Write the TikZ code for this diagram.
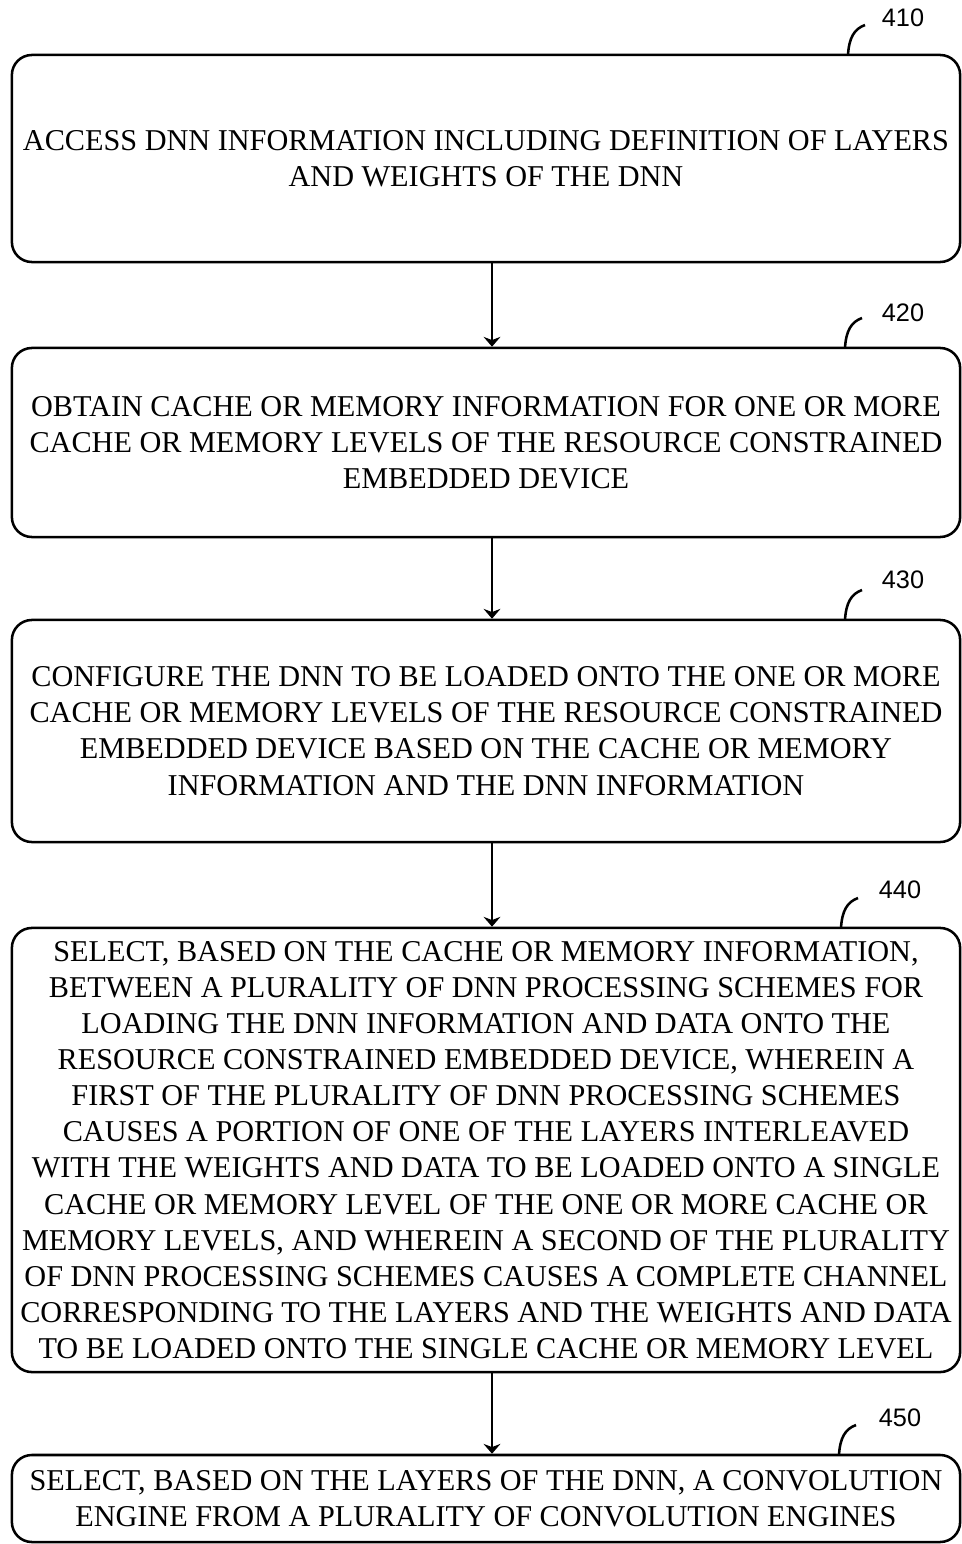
\documentclass[tikz,border=0pt]{standalone}
\usepackage{fontspec}
\setmainfont{Liberation Serif}
\newfontfamily\numfont{Liberation Sans}
\usetikzlibrary{arrows.meta}

\tikzstyle{passo} = [draw, line width=1.8pt, rounded corners=0.5cm, align=center, inner sep=0pt, minimum width=23.7cm, font=\fontsize{21.5}{25.7}\selectfont]
\tikzstyle{rotulo} = [font=\numfont\fontsize{18}{20}\selectfont]
\tikzstyle{seta} = [->, line width=1.8pt]
\tikzstyle{traco} = [line width=1.8pt]

\begin{document}
\begin{tikzpicture}[>={Stealth[length=7pt,width=12pt]}, x=0.025cm, y=-0.025cm]
    \useasboundingbox (0,0) rectangle (961,1544);

    % step 410
    \node (b410) at (486,158.5) [passo, minimum height=5.175cm] {ACCESS DNN INFORMATION INCLUDING DEFINITION OF LAYERS\\AND WEIGHTS OF THE DNN};
    \node (n410) at (903,18) [rotulo] {410};
    \coordinate (t410) at (848,55);
    \draw [traco] (t410) .. controls (849,38) and (854,29) .. (865,25);

    % step 420
    \node (b420) at (486,442.5) [passo, minimum height=4.725cm] {OBTAIN CACHE OR MEMORY INFORMATION FOR ONE OR MORE\\CACHE OR MEMORY LEVELS OF THE RESOURCE CONSTRAINED\\EMBEDDED DEVICE};
    \node (n420) at (903,313) [rotulo] {420};
    \coordinate (t420) at (845,348);
    \draw [traco] (t420) .. controls (846,331) and (851,322) .. (862,318);

    % step 430
    \node (b430) at (486,731) [passo, minimum height=5.55cm] {CONFIGURE THE DNN TO BE LOADED ONTO THE ONE OR MORE\\CACHE OR MEMORY LEVELS OF THE RESOURCE CONSTRAINED\\EMBEDDED DEVICE BASED ON THE CACHE OR MEMORY\\INFORMATION AND THE DNN INFORMATION};
    \node (n430) at (903,580) [rotulo] {430};
    \coordinate (t430) at (845,620);
    \draw [traco] (t430) .. controls (846,603) and (851,594) .. (862,590);

    % step 440
    \node (b440) at (486,1150) [passo, minimum height=11.1cm] {SELECT, BASED ON THE CACHE OR MEMORY INFORMATION,\\BETWEEN A PLURALITY OF DNN PROCESSING SCHEMES FOR\\LOADING THE DNN INFORMATION AND DATA ONTO THE\\RESOURCE CONSTRAINED EMBEDDED DEVICE, WHEREIN A\\FIRST OF THE PLURALITY OF DNN PROCESSING SCHEMES\\CAUSES A PORTION OF ONE OF THE LAYERS INTERLEAVED\\WITH THE WEIGHTS AND DATA TO BE LOADED ONTO A SINGLE\\CACHE OR MEMORY LEVEL OF THE ONE OR MORE CACHE OR\\MEMORY LEVELS, AND WHEREIN A SECOND OF THE PLURALITY\\OF DNN PROCESSING SCHEMES CAUSES A COMPLETE CHANNEL\\CORRESPONDING TO THE LAYERS AND THE WEIGHTS AND DATA\\TO BE LOADED ONTO THE SINGLE CACHE OR MEMORY LEVEL};
    \node (n440) at (900,890) [rotulo] {440};
    \coordinate (t440) at (841,928);
    \draw [traco] (t440) .. controls (842,911) and (847,902) .. (858,898);

    % step 450
    \node (b450) at (486,1498.5) [passo, minimum height=2.175cm] {SELECT, BASED ON THE LAYERS OF THE DNN, A CONVOLUTION\\ENGINE FROM A PLURALITY OF CONVOLUTION ENGINES};
    \node (n450) at (900,1418) [rotulo] {450};
    \coordinate (t450) at (839,1455);
    \draw [traco] (t450) .. controls (840,1438) and (845,1429) .. (856,1425);

    % flow
    \draw [seta] ([xshift=0.15cm]b410.south) -- ([xshift=0.15cm]b420.north);
    \draw [seta] ([xshift=0.15cm]b420.south) -- ([xshift=0.15cm]b430.north);
    \draw [seta] ([xshift=0.15cm]b430.south) -- ([xshift=0.15cm]b440.north);
    \draw [seta] ([xshift=0.15cm]b440.south) -- ([xshift=0.15cm]b450.north);

\end{tikzpicture}
\end{document}
